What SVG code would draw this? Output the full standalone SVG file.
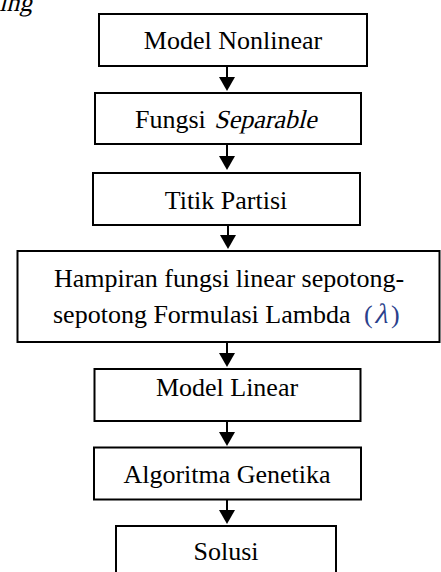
<svg xmlns="http://www.w3.org/2000/svg" width="441" height="572" viewBox="0 0 441 572">
<defs>
<style>
.box{fill:#fff;stroke:#000;stroke-width:2}
.c{stroke:#000;stroke-width:2;fill:none}
.h{fill:#000}
svg text, svg tspan, .t{font-family:'Liberation Serif','Times New Roman',serif !important;font-size:26px}
</style>
</defs>
<rect width="441" height="572" fill="#fff"/>
<text class="t" x="0" y="0" transform="translate(-1,11) skewX(-14)" style="font-family:'Liberation Serif',serif !important">ing</text>
<g fill="#000">
<g id="n1"><rect class="box" x="99" y="14" width="268" height="52"/><text class="t" x="233" y="49" text-anchor="middle" style="font-family:'Liberation Serif',serif !important">Model Nonlinear</text></g>
<g id="n2"><rect class="box" x="95" y="93" width="266" height="51"/><text class="t" x="135" y="128" style="font-family:'Liberation Serif',serif !important">Fungsi</text><text class="t" x="0" y="0" transform="translate(214,128) skewX(-14)" style="font-family:'Liberation Serif',serif !important">Separable</text></g>
<g id="n3"><rect class="box" x="93" y="173" width="267" height="52"/><text class="t" x="226" y="209" text-anchor="middle" style="font-family:'Liberation Serif',serif !important">Titik Partisi</text></g>
<g id="n4"><rect class="box" x="17.5" y="251" width="422" height="91"/><text class="t" x="229" y="287" text-anchor="middle" style="font-family:'Liberation Serif',serif !important">Hampiran fungsi linear sepotong-</text><text class="t" x="53" y="323" style="font-family:'Liberation Serif',serif !important">sepotong Formulasi Lambda</text><text class="t" x="364" y="323" fill="#2b3f8c" style="font-family:'Liberation Serif',serif !important">(</text><text class="t" x="0" y="0" transform="translate(374,323) skewX(-14)" fill="#2b3f8c" style="font-family:'Liberation Serif',serif !important;font-size:28px">&#955;</text><text class="t" x="391" y="323" fill="#2b3f8c" style="font-family:'Liberation Serif',serif !important">)</text></g>
<g id="n5"><rect class="box" x="94.5" y="369" width="266" height="52"/><text class="t" x="227" y="396" text-anchor="middle" style="font-family:'Liberation Serif',serif !important">Model Linear</text></g>
<g id="n6"><rect class="box" x="94" y="447.5" width="267" height="52"/><text class="t" x="227" y="483" text-anchor="middle" style="font-family:'Liberation Serif',serif !important">Algoritma Genetika</text></g>
<g id="n7"><rect class="box" x="116" y="526" width="220" height="60"/><text class="t" x="226" y="560" text-anchor="middle" style="font-family:'Liberation Serif',serif !important">Solusi</text></g>
</g>
<g id="connectors">
<line class="c" x1="227" y1="66" x2="227" y2="78"/><polygon class="h" points="219,77 235,77 227,91"/>
<line class="c" x1="227" y1="144" x2="227" y2="157"/><polygon class="h" points="219,156 235,156 227,170"/>
<line class="c" x1="228" y1="225" x2="228" y2="236"/><polygon class="h" points="220,235 236,235 228,249"/>
<line class="c" x1="227" y1="342" x2="227" y2="354"/><polygon class="h" points="219,353 235,353 227,367"/>
<line class="c" x1="227" y1="421" x2="227" y2="433"/><polygon class="h" points="219,432 235,432 227,446"/>
<line class="c" x1="227" y1="499.5" x2="227" y2="511"/><polygon class="h" points="219,510 235,510 227,524"/>
</g>
</svg>
